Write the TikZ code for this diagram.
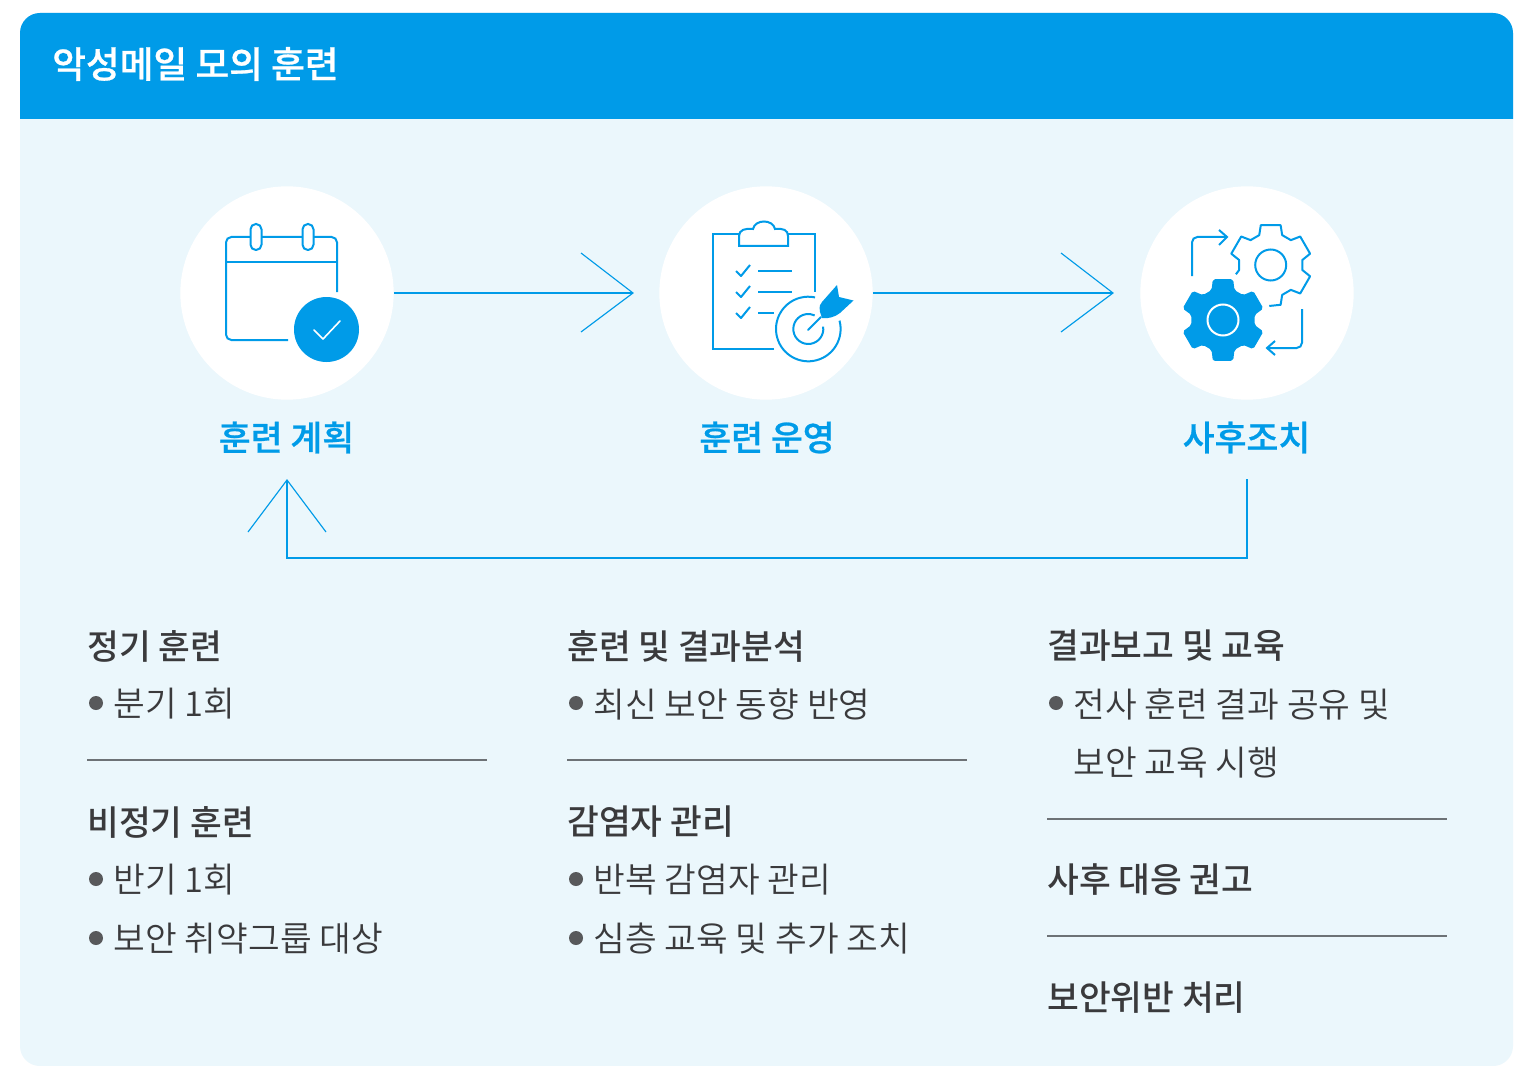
\documentclass[tikz,border=0pt]{standalone}
\usepackage{fontspec}
\setmainfont{Noto Sans CJK KR DemiLight}
\newfontfamily\medkr{Noto Sans CJK KR Medium}
\newfontfamily\semikr[FakeBold=0.7]{Noto Sans CJK KR Medium}
\definecolor{brand}{HTML}{009BE8}
\definecolor{pale}{HTML}{EBF7FC}
\definecolor{ink}{HTML}{3A3A3C}
\definecolor{bullet}{HTML}{58595B}
\definecolor{rule}{HTML}{6D7276}
\tikzset{
  panel/.style={fill=pale},
  flow/.style={draw=brand,line width=0.85pt},
  icon/.style={draw=brand,line width=1.5pt},
  ttl/.style={anchor=west,inner sep=0pt,font=\semikr\fontsize{27.5}{28}\selectfont,text=white},
  stage/.style={anchor=center,inner sep=0pt,font=\semikr\fontsize{26}{27}\selectfont,text=brand},
  head/.style={anchor=west,inner sep=0pt,font=\medkr\fontsize{25.9}{27}\selectfont,text=ink},
  item/.style={anchor=west,inner sep=0pt,font=\fontsize{25.85}{27}\selectfont,text=ink},
  sep/.style={draw=rule,line width=1pt},
  blob/.style={circle,fill=white,minimum size=160pt,inner sep=0pt},
  dot/.style={circle,fill=bullet,minimum size=10.5pt,inner sep=0pt}
}
\begin{document}
\begin{tikzpicture}[x=0.75pt,y=-0.75pt]
\useasboundingbox (0,0) rectangle (1516,1066);
\fill[white] (0,0) rectangle (1516,1066);
\fill[panel,rounded corners=15pt] (20,13) rectangle (1513,1066);
\fill[brand] (20,119) [rounded corners=15pt] -- (20,13) -- (1513,13) [sharp corners] -- (1513,119) -- cycle;
\node[ttl] (title) at (52,64) {악성메일 모의 훈련};
\node[blob] (c1) at (287,293) {};
\node[blob] (c2) at (766,293) {};
\node[blob] (c3) at (1247,293) {};
\node[stage] (s1) at (286.5,437.5) {훈련 계획};
\node[stage] (s2) at (767,437.5) {훈련 운영};
\node[stage] (s3) at (1246.5,437.5) {사후조치};
% arrows
\coordinate (t1) at (633,293);
\coordinate (t2) at (1113,293);
\draw[flow] (c1.east) -- (t1);
\draw[flow] (581,253) -- (t1) -- (581,332);
\draw[flow] (c2.east) -- (t2);
\draw[flow] (1061,253) -- (t2) -- (1061,332);
\coordinate (f1) at (1247,479);
\coordinate (f2) at (1247,558);
\coordinate (f3) at (287,558);
\coordinate (f4) at (287,480);
\draw[flow] (f1) -- (f2) -- (f3) -- (f4);
\draw[flow] (248,532) -- (f4) -- (326,532);
% calendar
\draw[icon,rounded corners=4pt] (337,292) -- (337,237) -- (226,237) -- (226,340) -- (288,340);
\draw[icon] (226,262) -- (337,262);
\draw[icon,fill=white,rounded corners=4pt] (250.5,224) rectangle (261.5,250);
\draw[icon,fill=white,rounded corners=4pt] (302.5,224) rectangle (313.5,250);
\fill[brand] (326.5,329.5) circle[radius=32.5];
\draw[white,line width=1.2pt,line cap=round,line join=round] (314,330) -- (323,339) -- (340,321);
% clipboard
\draw[icon] (774,349) -- (713,349) -- (713,234) -- (740,234);
\draw[icon] (788,234) -- (815,234) -- (815,292);
\draw[icon] (739,246) -- (739,236) .. controls (739,230) and (745,228) .. (753,229) .. controls (755,219) and (773,219) .. (775,229) .. controls (783,228) and (788,230) .. (788,236) -- (788,246) -- cycle;
\foreach \yy in {271,292,313} {
  \draw[icon,line join=round] (736,\yy) -- (741,\yy+5) -- (750,\yy-6);
}
\draw[icon] (758,271) -- (792,271);
\draw[icon] (758,292) -- (792,292);
\draw[icon] (758,313) -- (774,313);
\begin{scope}[shift={(808.3,329)}]
\draw[icon] (-15:32.3) arc[start angle=-15,end angle=282,radius=32.3];
\draw[icon] (-9:15) arc[start angle=-9,end angle=295,radius=15];
\end{scope}
\draw[icon,line cap=round] (808,330) -- (821,317);
\fill[brand] (820,312) .. controls (819,306) and (820,304) .. (822,302) -- (837,285) -- (839,297) -- (853.5,300.5) -- (840,313) .. controls (835,317) and (828,319) .. (822,318) -- cycle;
% gears
\draw[icon,rounded corners=4pt] (1192,276) -- (1192,237) -- (1226,237);
\draw[icon] (1219,230) -- (1227,237) -- (1219,245);
\draw[icon,rounded corners=4pt] (1302,309) -- (1302,348) -- (1268,348);
\draw[icon] (1275,341) -- (1267,348) -- (1275,355);
\begin{scope}[shift={(1270.7,265)}]
\draw[icon,line join=round] (165:36) -- (171:32) -- (189:32)
  \foreach \a in {210,270,330,390} { -- (\a-14:41) -- (\a+14:41) -- (\a+21:32) -- (\a+39:32) }
  -- (436:41) -- (452:41);
\draw[icon] (0,0) circle[radius=15.5];
\end{scope}
\begin{scope}[shift={(1223,320)}]
\fill[brand,rounded corners=1.5pt] (104:42)
  \foreach \a in {90,150,210,270,330,390} { -- (\a+21:32) -- (\a+39:32) -- (\a+46:42) -- (\a+74:42) } -- cycle;
\draw[white,line width=1.5pt] (0,0) circle[radius=15.5];
\end{scope}
% columns
\node[head] (a1) at (87,646) {정기 훈련};
\node[dot] (d1) at (96,703) {};
\node[item] (a2) at (113.5,704) {분기 1회};
\coordinate (l1a) at (87,760); \coordinate (l1b) at (487,760);
\draw[sep] (l1a) -- (l1b);
\node[head] (a3) at (87,822) {비정기 훈련};
\node[dot] (d2) at (96,879) {};
\node[item] (a4) at (113.5,880) {반기 1회};
\node[dot] (d3) at (96,938) {};
\node[item] (a5) at (113.5,939) {보안 취약그룹 대상};
\node[head] (b1) at (567,646) {훈련 및 결과분석};
\node[dot] (d4) at (576,703) {};
\node[item] (b2) at (593.5,704) {최신 보안 동향 반영};
\coordinate (l2a) at (567,760); \coordinate (l2b) at (967,760);
\draw[sep] (l2a) -- (l2b);
\node[head] (b3) at (567,822) {감염자 관리};
\node[dot] (d5) at (576,879) {};
\node[item] (b4) at (593.5,880) {반복 감염자 관리};
\node[dot] (d6) at (576,938) {};
\node[item] (b5) at (593.5,939) {심층 교육 및 추가 조치};
\node[head] (e1) at (1047,646) {결과보고 및 교육};
\node[dot] (d7) at (1056,703) {};
\node[item] (e2) at (1073.5,704) {전사 훈련 결과 공유 및};
\node[item] (e3) at (1073.5,763) {보안 교육 시행};
\coordinate (l3a) at (1047,819); \coordinate (l3b) at (1447,819);
\draw[sep] (l3a) -- (l3b);
\node[head] (e4) at (1047,880) {사후 대응 권고};
\coordinate (l4a) at (1047,936); \coordinate (l4b) at (1447,936);
\draw[sep] (l4a) -- (l4b);
\node[head] (e5) at (1047,998) {보안위반 처리};
\end{tikzpicture}
\end{document}
